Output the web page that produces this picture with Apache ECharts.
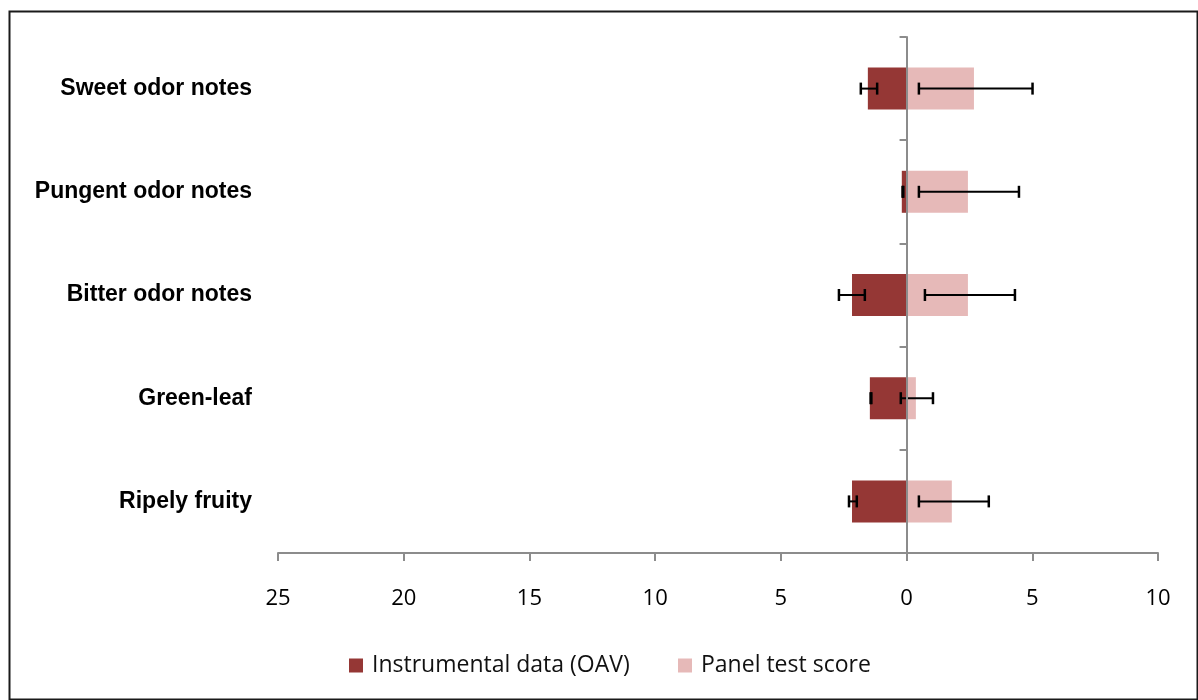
<!DOCTYPE html>
<html>
<head>
<meta charset="utf-8">
<script src="https://cdn.jsdelivr.net/npm/echarts@6/dist/echarts.min.js"></script>
<style>
html,body{margin:0;padding:0;background:#fff;}
#chart{width:1198px;height:700px;}
</style>
</head>
<body>
<div id="chart"></div>
<script>
var categories = ['Sweet odor notes', 'Pungent odor notes', 'Bitter odor notes', 'Green-leaf', 'Ripely fruity'];
var oavValues = [-1.54, -0.19, -2.17, -1.46, -2.17];
var panelValues = [2.68, 2.44, 2.44, 0.37, 1.80];
var oavErrLow = [-1.82, -0.16, -2.69, -1.43, -2.29];
var oavErrHigh = [-1.17, -0.13, -1.66, -1.40, -1.98];
var panelErrLow = [0.49, 0.49, 0.73, -0.23, 0.49];
var panelErrHigh = [5.01, 4.47, 4.31, 1.05, 3.27];
var xTicks = {min: -25, max: 10, interval: 5};
var seriesNames = ['Instrumental data (OAV)', 'Panel test score'];

function errData(lo, hi) {
  return categories.map(function (c, i) { return [i, lo[i], hi[i]]; });
}
function renderErr(params, api) {
  var idx = api.value(0);
  var p1 = api.coord([api.value(1), idx]);
  var p2 = api.coord([api.value(2), idx]);
  var cap = 6;
  var st = {stroke: '#000', lineWidth: 2};
  var cs = {stroke: '#000', lineWidth: 2.5};
  return {
    type: 'group',
    children: [
      {type: 'line', shape: {x1: p1[0], y1: p1[1], x2: p2[0], y2: p2[1]}, style: st},
      {type: 'line', shape: {x1: p1[0], y1: p1[1] - cap, x2: p1[0], y2: p1[1] + cap}, style: cs},
      {type: 'line', shape: {x1: p2[0], y1: p2[1] - cap, x2: p2[0], y2: p2[1] + cap}, style: cs}
    ]
  };
}

var chart = echarts.init(document.getElementById('chart'));
var axisColor = '#8c8c8c';
var legendText = {fontFamily: 'Open Sans', fontSize: 23, color: '#111', padding: [0, 0, 0, 4]};
chart.setOption({
  animation: false,
  grid: {left: 278, right: 40, top: 37, bottom: 147},
  graphic: [{
    type: 'rect', left: 7, top: 9, z: 100,
    shape: {x: 0, y: 0, width: 1188, height: 688},
    style: {fill: 'none', stroke: '#1a1a1a', lineWidth: 2}
  }],
  legend: [
    {data: [seriesNames[0]], left: 349, top: 654, padding: 0, itemWidth: 14, itemHeight: 14,
     icon: 'rect', textStyle: legendText},
    {data: [seriesNames[1]], left: 678, top: 654, padding: 0, itemWidth: 14, itemHeight: 14,
     icon: 'rect', textStyle: legendText}
  ],
  xAxis: {
    type: 'value', min: xTicks.min, max: xTicks.max, interval: xTicks.interval,
    axisLine: {show: true, onZero: false, lineStyle: {color: axisColor, width: 2}},
    axisTick: {show: true, length: 8, lineStyle: {color: axisColor, width: 2}},
    splitLine: {show: false},
    axisLabel: {margin: 35, fontFamily: 'Open Sans', fontSize: 22, color: '#000',
      formatter: function (v) { return String(Math.abs(v)); }}
  },
  yAxis: [
    {
      type: 'category', data: categories, inverse: true, position: 'left',
      axisLine: {show: false, onZero: false}, axisTick: {show: false},
      axisLabel: {margin: 26, fontFamily: 'Liberation Sans', fontWeight: 'bold', fontSize: 23, color: '#000',
        padding: [4, 0, 0, 0]}
    },
    {
      type: 'category', data: categories, inverse: true, position: 'left', z: 10,
      axisLine: {show: true, onZero: true, lineStyle: {color: axisColor, width: 2}},
      axisTick: {show: true, length: 7, lineStyle: {color: axisColor, width: 2}},
      axisLabel: {show: false}
    }
  ],
  series: [
    {name: seriesNames[0], type: 'bar', data: oavValues, barWidth: 42, barGap: '-100%',
     itemStyle: {color: '#953735'}},
    {name: seriesNames[1], type: 'bar', data: panelValues, barWidth: 42, barGap: '-100%',
     itemStyle: {color: '#E6B9B8'}},
    {type: 'custom', renderItem: renderErr, data: errData(oavErrLow, oavErrHigh),
     encode: {x: [1, 2], y: 0}, z: 5, silent: true},
    {type: 'custom', renderItem: renderErr, data: errData(panelErrLow, panelErrHigh),
     encode: {x: [1, 2], y: 0}, z: 5, silent: true}
  ]
});
</script>
</body>
</html>
